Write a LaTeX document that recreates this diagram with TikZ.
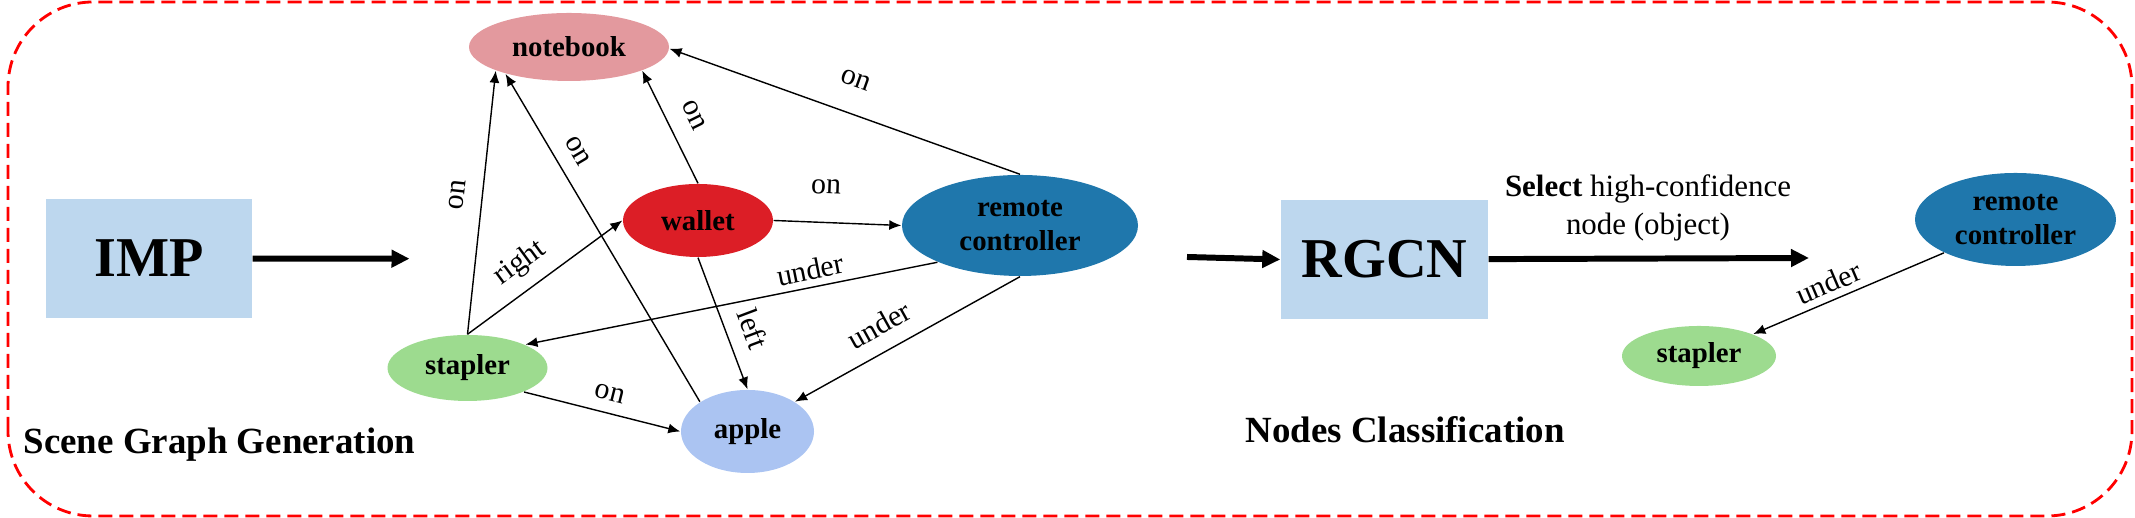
\documentclass[tikz,border=0pt]{standalone}
\usepackage{fontspec}
\setmainfont{Liberation Serif}
\usetikzlibrary{shapes.geometric, arrows.meta}

\definecolor{boxblue}{RGB}{189,215,238}
\definecolor{nbpink}{RGB}{227,153,158}
\definecolor{walletred}{RGB}{220,30,38}
\definecolor{remoteblue}{RGB}{31,119,172}
\definecolor{staplergreen}{RGB}{157,219,143}
\definecolor{appleblue}{RGB}{171,196,242}

\begin{document}
\begin{tikzpicture}[>=latex, nodes = {align = center}]

  \tikzstyle{obj}=[ellipse, inner sep=0pt, font=\fontsize{8.2}{9.5}\selectfont\bfseries]
  \tikzstyle{module}=[rectangle, fill=boxblue, minimum width=2.06cm, minimum height=1.19cm, font=\fontsize{16}{18}\selectfont\bfseries]
  \tikzstyle{rel}=[font=\fontsize{8.5}{10}\selectfont, sloped]
  \tikzstyle{edge}=[-{Latex[length=0.12cm,width=0.1cm]}, line width=0.4pt]
  \tikzstyle{flow}=[-{Triangle[length=0.18cm,width=0.17cm]}, line width=1.7pt]
  \tikzstyle{caption}=[anchor=base west, inner sep=0pt, font=\fontsize{10.5}{12}\selectfont\bfseries]

  \useasboundingbox (0,0) rectangle (21.35,5.18);

  % Frame
  \draw[red, line width=0.8pt, dash pattern=on 0.14cm off 0.07cm, rounded corners=0.85cm] (0.08,0.02) rectangle (21.32,5.16);

  % Modules
  \node[module] (imp) at (1.49,2.595) {IMP};
  \node[module, minimum width=2.07cm] (rgcn) at (13.845,2.585) {RGCN};

  % Scene graph
  \node[obj, fill=nbpink, minimum width=2.00cm, minimum height=0.68cm] (notebook) at (5.69,4.71) {notebook};
  \node[obj, fill=walletred, minimum width=1.50cm, minimum height=0.73cm] (wallet) at (6.98,2.975) {wallet};
  \node[obj, fill=remoteblue, minimum width=2.36cm, minimum height=1.01cm] (remote) at (10.20,2.925) {remote\\controller};
  \node[obj, fill=staplergreen, minimum width=1.60cm, minimum height=0.66cm] (stapler) at (4.675,1.50) {stapler};
  \node[obj, fill=appleblue, minimum width=1.33cm, minimum height=0.83cm] (apple) at (7.475,0.865) {apple};

  % Classified nodes
  \node[obj, fill=remoteblue, minimum width=2.01cm, minimum height=0.93cm] (remote2) at (20.155,2.985) {remote\\controller};
  \node[obj, fill=staplergreen, minimum width=1.54cm, minimum height=0.60cm] (stapler2) at (16.99,1.62) {stapler};

  % Captions
  \node[caption] (sgg) at (0.23,0.64) {Scene Graph Generation};
  \node[caption] (nc) at (12.45,0.75) {Nodes Classification};
  \node[font=\fontsize{8.8}{10.8}\selectfont] (select) at (16.48,3.10) {\textbf{Select} high-confidence\\node (object)};

  % Free ends of the thick arrows
  \coordinate (imp_end) at (4.095,2.593);
  \coordinate (rgcn_in) at (11.87,2.61);
  \coordinate (select_end) at (18.09,2.60);

  % Thick arrows
  \draw[flow] (imp) -- (imp_end);
  \draw[flow] (rgcn_in) -- (rgcn.west);
  \draw[flow] (rgcn) -- (select_end);

  % Relations in the scene graph
  \draw[edge] (stapler.90) -- node[rel, above=1.5pt, pos=0.52] {on} (notebook.198);
  \draw[edge] (apple.148) -- node[rel, above=1pt, pos=0.73] {on} (notebook.203);
  \draw[edge] (wallet.90) -- node[rel, above=2pt, pos=0.5] {on} (notebook.342);
  \draw[edge] (remote.90) -- node[rel, above=4pt, pos=0.5] {on} (notebook.-1);
  \draw[edge] (wallet.east) -- node[rel, above=4.5pt, pos=0.4] {on} (remote.west);
  \draw[edge] (stapler.90) -- node[rel, above, pos=0.44] {right} (wallet.west);
  \draw[edge] (remote.204) -- node[rel, above=-1.5pt, pos=0.3] {under} (stapler.22);
  \draw[edge] (wallet.270) -- node[rel, above=1pt, pos=0.61] {left} (apple.north);
  \draw[edge] (remote.270) -- node[rel, above=1pt, pos=0.57] {under} (apple.32);
  \draw[edge] (stapler.337) -- node[rel, above, pos=0.52] {on} (apple.west);

  % Relation kept after classification
  \draw[edge] (remote2.205) -- node[rel, above=-1.5pt, pos=0.57] {under} (stapler2.22);

\end{tikzpicture}
\end{document}
